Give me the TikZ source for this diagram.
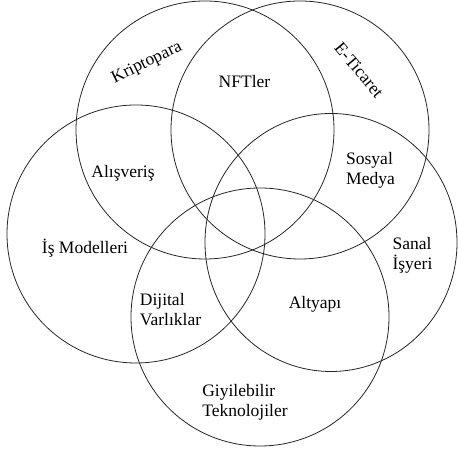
\documentclass[tikz,border=0pt]{standalone}
\usepackage{fontspec}
\setmainfont{Liberation Serif}
\begin{document}
\begin{tikzpicture}[x=1pt,y=1pt,
  ring/.style={draw=black!85,line width=0.8pt},
  lbl/.style={inner sep=0pt,align=left,font=\fontsize{17.5}{20}\selectfont}]
\useasboundingbox (0,0) rectangle (458,454);
% five overlapping sets
\draw[ring] (205,324) circle[radius=129];
\draw[ring] (300,324) circle[radius=129];
\draw[ring] (136,220) circle[radius=129];
\draw[ring] (331,211.5) ellipse[x radius=126,y radius=129];
\draw[ring] (260,137) circle[radius=129];
% labels
\node[lbl,rotate=26] (kr) at (147,391) {Kriptopara};
\node[lbl] (nft) at (244.5,372) {NFTler};
\node[lbl,rotate=-50] (et) at (359,384) {E-Ticaret};
\node[lbl] (al) at (123,281) {Alışveriş};
\node[lbl] (sm) at (370.5,284) {Sosyal\\Medya};
\node[lbl] (im) at (85,206) {İş Modelleri};
\node[lbl] (si) at (412.5,199) {Sanal\\İşyeri};
\node[lbl] (dv) at (170.5,144) {Dijital\\Varlıklar};
\node[lbl] (ay) at (315,150) {Altyapı};
\node[lbl] (gt) at (245,52) {Giyilebilir\\Teknolojiler};
\end{tikzpicture}
\end{document}
